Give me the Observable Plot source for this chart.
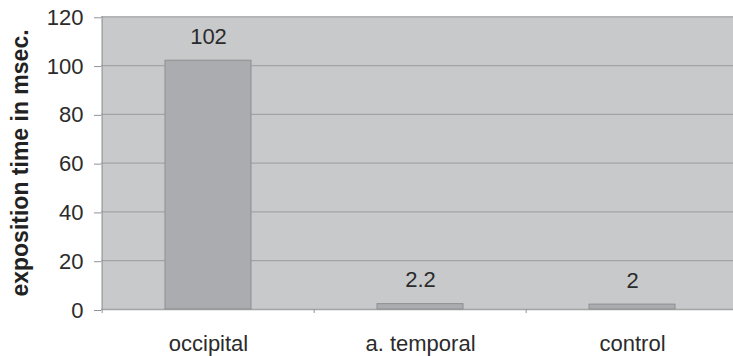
<!DOCTYPE html>
<html>
<head>
<meta charset="utf-8">
<script src="https://cdn.jsdelivr.net/npm/d3@7"></script>
<script src="https://cdn.jsdelivr.net/npm/@observablehq/plot@0.6"></script>
<style>
  body { margin: 0; background: #fff; }
  svg { display: block; }
</style>
</head>
<body>
<div id="chart"></div>
<script>
// Exposition time per stimulation site
const categories = ["occipital", "a. temporal", "control"];
const values = [102, 2.2, 2];
const valueLabels = ["102", "2.2", "2"];
const yTicks = [0, 20, 40, 60, 80, 100, 120];
const yTitle = "exposition time in msec.";

const rows = categories.map((c, i) => ({category: c, value: values[i], label: valueLabels[i]}));

// The category bands run slightly past the right edge of the figure
const xRange = [101, 739];
const step = (xRange[1] - xRange[0]) / categories.length;

const axisGray = "#929395";

const chart = Plot.plot({
  width: 733,
  height: 356,
  marginLeft: 101,
  marginRight: 0,
  marginTop: 16,
  marginBottom: 47,
  style: {
    fontFamily: "'Liberation Sans', Arial, sans-serif",
    color: "#2b2b2b",
    background: "#fff",
    overflow: "visible"
  },
  x: {domain: categories, range: xRange, paddingInner: 0.595, paddingOuter: 0.2975},
  y: {domain: [0, 120], range: [309, 16.3]},
  marks: [
    // grey plot area
    Plot.frame({fill: "#c8c9cb", stroke: null}),
    Plot.gridY(yTicks, {stroke: "#a3a4a6", strokeOpacity: 1, strokeWidth: 1.3}),
    // left axis line, extended a little below zero
    Plot.ruleX([categories[0]], {x: d => d, y1: 120, y2: 0, dx: -step / 2, insetBottom: -4, stroke: axisGray}),
    // tick marks between categories
    Plot.ruleX(categories.slice(1), {x: d => d, y1: 0, y2: 0, dx: -step / 2, insetBottom: -4, stroke: axisGray}),
    Plot.axisY({ticks: yTicks, tickSize: 7, tickPadding: 11, fontSize: 22, stroke: axisGray, label: null, dy: 1}),
    Plot.axisX({tickSize: 0, tickPadding: 26, fontSize: 22, label: null}),
    Plot.barY(rows, {x: "category", y: "value", fill: "#aaacaf", stroke: "#8d8f92", strokeWidth: 1}),
    Plot.text(rows, {x: "category", y: "value", text: "label", dy: -24, fontSize: 22, fill: "#2b2b2b"}),
    Plot.text([yTitle], {
      text: d => d,
      frameAnchor: "left",
      textAnchor: "middle",
      lineAnchor: "middle",
      rotate: -90,
      dx: -81,
      fontSize: 23,
      fontWeight: "bold",
      fill: "#222"
    })
  ]
});

document.getElementById("chart").append(chart);
</script>
</body>
</html>
